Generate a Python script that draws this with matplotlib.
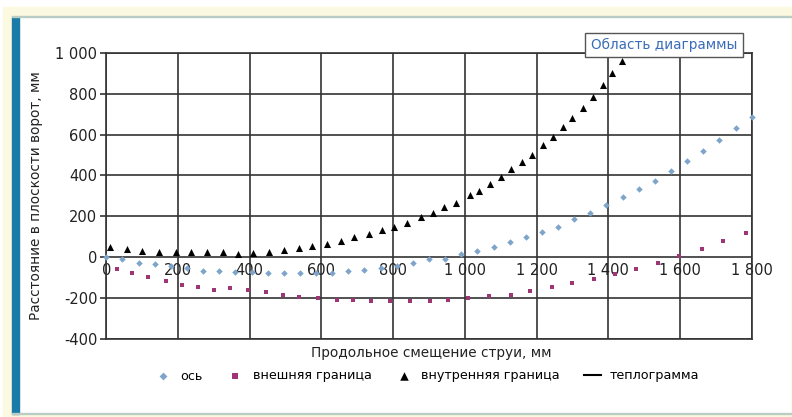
import matplotlib
matplotlib.use('Agg')
import matplotlib.pyplot as plt
from matplotlib.patches import Rectangle

# ось (axis of the jet)
axis_x = [0, 45, 90, 135, 180, 225, 270, 315, 360, 405, 450, 495, 540, 585, 630, 675, 720, 765, 810, 855,
          900, 945, 990, 1035, 1080, 1125, 1170, 1215, 1260, 1305, 1350, 1395, 1440, 1485, 1530, 1575,
          1620, 1665, 1710, 1755, 1800]
axis_y = [0, -11, -28, -36, -45, -55, -67, -67, -72, -74, -77, -80, -80, -80, -78, -67, -64, -55, -45, -28,
          -11, -11, 15, 31, 51, 74, 97, 124, 149, 185, 214, 253, 296, 332, 374, 422,
          471, 521, 574, 634, 688]

# внешняя граница (outer border)
outer_x = [29, 71, 115, 166, 212, 255, 301, 345, 394, 445, 492, 538, 591, 643, 689, 738, 791, 847,
           903, 954, 1010, 1067, 1128, 1182, 1242, 1298, 1360, 1419, 1477, 1538, 1598, 1662, 1721, 1784]
outer_y = [-59, -80, -100, -120, -135, -146, -162, -150, -162, -174, -184, -194, -202, -211, -213, -216, -218, -216,
           -216, -213, -202, -191, -186, -165, -149, -129, -108, -84, -60, -27, 5, 38, 80, 116]

# внутренняя граница (inner border)
inner_x = [10, 57, 100, 147, 194, 235, 280, 326, 368, 410, 454, 496, 537, 574, 616, 654, 692, 732, 770, 803,
           839, 877, 910, 941, 974, 1014, 1039, 1070, 1100, 1130, 1160, 1187, 1218, 1245, 1273, 1300,
           1330, 1358, 1384, 1409, 1437]
inner_y = [47, 38, 31, 26, 26, 26, 26, 26, 15, 21, 26, 34, 43, 54, 64, 78, 97, 113, 132, 149,
           168, 195, 214, 244, 266, 304, 325, 358, 394, 430, 464, 500, 548, 587, 636, 680,
           729, 786, 843, 903, 962]

x_ticks = [0, 200, 400, 600, 800, 1000, 1200, 1400, 1600, 1800]
x_labels = ['0', '200', '400', '600', '800', '1 000', '1 200', '1 400', '1 600', '1 800']
y_ticks = [-400, -200, 0, 200, 400, 600, 800, 1000]
y_labels = ['-400', '-200', '0', '200', '400', '600', '800', '1 000']

W, H = 792, 417
plt.rcParams['font.family'] = ['DejaVu Sans']
fig = plt.figure(figsize=(W / 100, H / 100), dpi=100)


def px_rect(x0, y0, x1, y1, **kw):
    # rectangle given in pixel coords of the picture (y down)
    fig.patches.append(Rectangle((x0 / W, 1 - y1 / H), (x1 - x0) / W, (y1 - y0) / H,
                                 transform=fig.transFigure, **kw))


# frame around the chart, kept below the axes
px_rect(3, 7, W, H, color='#fbf9e0', zorder=-3)
px_rect(19, 17, 790, 413, color='white', zorder=-2)
px_rect(12, 17, 19, 414, color='#1b7ba8', zorder=-1)
px_rect(12, 15.5, 792, 17, color='#b9cdc4', zorder=-1)
px_rect(12, 412.5, 792, 414, color='#b9cdc4', zorder=-1)

ax = fig.add_axes([106.3 / W, 1 - 338.6 / H, 645.4 / W, 285.6 / H])
ax.set_facecolor('none')

ax.scatter(axis_x, axis_y, marker='D', s=11, color='#7ea4ca', label='ось', zorder=3, linewidths=0, clip_on=False)
ax.scatter(outer_x, outer_y, marker='s', s=12, color='#9e3575', label='внешняя граница', zorder=3, linewidths=0,
           clip_on=False)
ax.scatter(inner_x, inner_y, marker='^', s=26, color='black', label='внутренняя граница', zorder=3, linewidths=0,
           clip_on=False)
ax.plot([], [], color='black', lw=1.5, label='теплограмма')

ax.set_xlim(0, 1800)
ax.set_ylim(-400, 1000)
ax.set_xticks(x_ticks)
ax.set_yticks(y_ticks)
ax.set_yticklabels(y_labels, fontsize=10.5, color='#222222')
ax.set_xticklabels([])
ax.tick_params(axis='x', length=0)
ax.tick_params(axis='y', length=4, width=1.2, color='#333333', pad=2.5)
ax.grid(True, color='#333333', lw=1.2, zorder=1)
for s in ax.spines.values():
    s.set_color('#333333')
    s.set_linewidth(1.2)

# x labels sit on the zero line
for xv, lab in zip(x_ticks, x_labels):
    ax.annotate(lab, (xv, 0), xytext=(0, -4), textcoords='offset points',
                ha='center', va='top', fontsize=10.5, color='#222222', zorder=2)

ax.set_ylabel('Расстояние в плоскости ворот, мм', fontsize=9.8, color='#222222', labelpad=9)
fig.text(431 / W, 1 - 353 / H, 'Продольное смещение струи, мм', ha='center', va='center',
         fontsize=9.8, color='#222222')

fig.legend(loc='center', bbox_to_anchor=(427 / W, 1 - 376 / H), ncol=4, frameon=False,
           fontsize=9.2, handlelength=1.3, handletextpad=0.7, columnspacing=1.9, markerscale=1.2)

fig.text(664 / W, 1 - 45 / H, 'Область диаграммы', ha='center', va='center', fontsize=9.8,
         color='#3a6db8', zorder=5,
         bbox=dict(boxstyle='square,pad=0.4', fc='white', ec='#555555', lw=1))

fig.savefig('out.png', dpi=100)
